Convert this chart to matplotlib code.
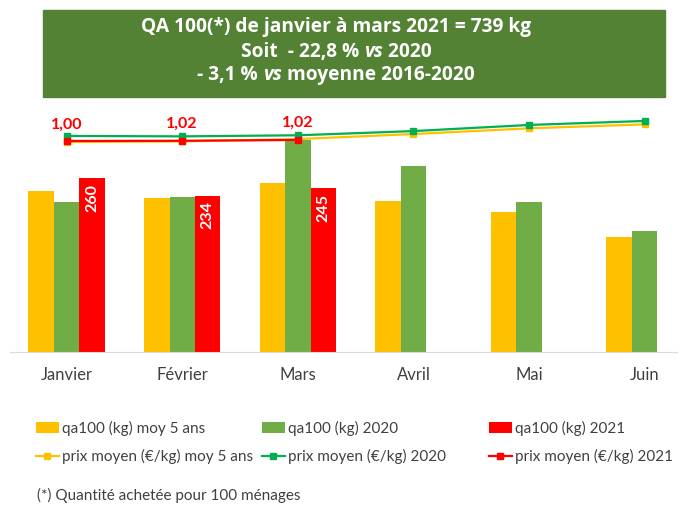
import numpy as np
import matplotlib
matplotlib.use('Agg')
import matplotlib.pyplot as plt
from matplotlib.patches import Rectangle

plt.rcParams['font.family'] = ['Lato', 'DejaVu Sans']

# data
months = ['Janvier', 'Février', 'Mars', 'Avril', 'Mai', 'Juin']
qa_moy5 = [241, 231, 253, 226, 210, 172]
qa_2020 = [224, 232, 317, 279, 224, 182]
qa_2021 = [260, 234, 245]
prix_moy5 = [0.995, 0.998, 1.009, 1.033, 1.060, 1.079]
prix_2020 = [1.024, 1.022, 1.027, 1.047, 1.076, 1.095]
prix_2021 = [1.000, 1.001, 1.005]
prix_2021_labels = ['1,00', '1,02', '1,02']

c_yellow = '#FFC000'
c_green = '#70AD47'
c_red = '#FF0000'
c_gline = '#00B050'
c_text = '#404040'

fig = plt.figure(figsize=(6.8, 5.05), dpi=100)
ax = fig.add_axes([10 / 680, 1 - 352 / 505, 667 / 680, 247 / 505])
ax2 = ax.twinx()

x = np.arange(len(months))
w = 0.22
b1 = ax.bar(x - w, qa_moy5, w, color=c_yellow, label='qa100 (kg) moy 5 ans')
b2 = ax.bar(x, qa_2020, w, color=c_green, label='qa100 (kg) 2020')
x21 = x[:len(qa_2021)]
b3 = ax.bar(x21 + w, qa_2021, w, color=c_red, label='qa100 (kg) 2021')

for xi, v in zip(x21, qa_2021):
    ax.annotate(str(v), (xi + w, v), xytext=(0, -4), textcoords='offset points',
                rotation=90, ha='center', va='top', color='white',
                fontsize=11.5, fontweight='bold')

l1, = ax2.plot(x, prix_moy5, color=c_yellow, lw=1.6, marker='s', ms=5,
               label='prix moyen (€/kg) moy 5 ans')
l2, = ax2.plot(x, prix_2020, color=c_gline, lw=1.6, marker='s', ms=5,
               label='prix moyen (€/kg) 2020')
l3, = ax2.plot(x21, prix_2021, color=c_red, lw=1.6, marker='s', ms=5,
               label='prix moyen (€/kg) 2021')

for xi, v, t in zip(x21, prix_2021, prix_2021_labels):
    ax2.annotate(t, (xi, v), xytext=(0, 12), textcoords='offset points',
                 ha='center', va='center', color=c_red, fontsize=11.5,
                 fontweight='bold')

ax.set_xlim(-0.49, 5.28)
ax.set_ylim(0, 370)
ax2.set_ylim(0, 1.1706)
ax.set_xticks(x)
ax.set_xticklabels(months, fontsize=12, color=c_text)
ax.tick_params(axis='x', length=0, pad=11)
ax.set_yticks([])
ax2.set_yticks([])
for a in (ax, ax2):
    for s in ['top', 'right', 'left']:
        a.spines[s].set_visible(False)
    a.spines['bottom'].set_color('#d9d9d9')
ax2.spines['bottom'].set_visible(False)

# legends, one per column
legcols = [(b1, l1, 36), (b2, l2, 262), (b3, l3, 489)]
for bh, lh, px in legcols:
    lg = fig.legend(handles=[bh, lh], loc='upper left',
                    bbox_to_anchor=(px / 680, 1 - 421 / 505), frameon=False,
                    fontsize=11, handlelength=1.5, handletextpad=0.2,
                    labelspacing=0.85, borderpad=0, borderaxespad=0)
    for t in lg.get_texts():
        t.set_color(c_text)

fig.text(37 / 680, 1 - 495 / 505, '(*) Quantité achetée pour 100 ménages',
         fontsize=11, color=c_text, va='center')

# title box
fig.patches.append(Rectangle((43 / 680, 1 - 97 / 505), 622 / 680, 87 / 505,
                             transform=fig.transFigure, color='#548235', zorder=0))

renderer = fig.canvas.get_renderer()


def draw_parts(y, parts, size=13.8):
    texts = []
    for s, style in parts:
        t = fig.text(0, y, s, fontsize=size, fontweight='bold', style=style,
                     color='white', va='center', family=['Open Sans', 'DejaVu Sans'])
        texts.append(t)
    widths = [t.get_window_extent(renderer).width for t in texts]
    left = 336 - sum(widths) / 2
    for t, wd in zip(texts, widths):
        t.set_x(left / 680)
        left += wd


draw_parts(1 - 27 / 505, [('QA 100(*) de janvier à mars 2021 = 739 kg', 'normal')])
draw_parts(1 - 52 / 505, [('Soit  - 22,8 % ', 'normal'), ('vs', 'italic'),
                          (' 2020', 'normal')])
draw_parts(1 - 75 / 505, [('- 3,1 % ', 'normal'), ('vs', 'italic'),
                          (' moyenne 2016-2020', 'normal')])

fig.savefig('out.png', dpi=100)
